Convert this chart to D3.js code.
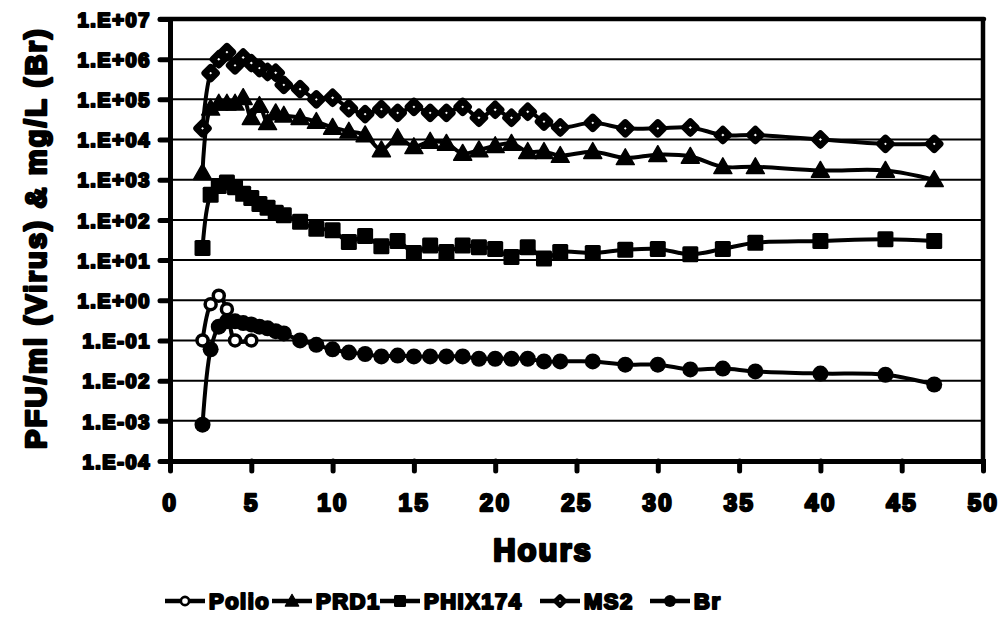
<!DOCTYPE html>
<html><head><meta charset="utf-8">
<script src="https://cdn.jsdelivr.net/npm/d3@7"></script>
<style>
html,body{margin:0;padding:0;background:#fff;}
svg text{font-family:"Liberation Sans",Arial,sans-serif;font-weight:bold;fill:#000;stroke:#000;stroke-linejoin:round;}
</style></head>
<body>
<svg id="c" width="1002" height="628"></svg>
<script>
const hours = [2,2.5,3,3.5,4,4.5,5,5.5,6,6.5,7,8,9,10,11,12,13,14,15,16,17,18,19,20,21,22,23,24,26,28,30,32,34,36,40,44,47];
const polioHours = [2,2.5,3,3.5,4,5];
const polio = [0.1,0.8,1.3,0.6,0.1,0.1];
const prd1 = [1.5e3,6e4,8e4,8e4,8e4,1.1e5,3.5e4,7e4,2.6e4,4.6e4,4e4,3.5e4,2.8e4,2e4,1.6e4,1.3e4,5.5e3,1.1e4,6.6e3,9e3,8e3,4.5e3,5.5e3,7e3,8e3,5e3,5e3,4e3,5e3,3.5e3,4.2e3,3.8e3,2.1e3,2.1e3,1.7e3,1.7e3,1e3];
const phix174 = [20,420,700,850,650,450,350,250,200,150,130,90,60,55,28,40,22,30,15,23,16,23,21,19,12,21,11,16,15,18,19,14,19,27,30,33,30];
const ms2 = [1.9e4,4.5e5,1e6,1.5e6,7e5,1.1e6,8e5,6e5,4.8e5,4.6e5,2.3e5,1.8e5,1e5,1.1e5,6e4,4.3e4,5.7e4,4.6e4,6.5e4,4.6e4,4.6e4,6.5e4,3.5e4,5.5e4,3.5e4,4.9e4,2.8e4,2e4,2.6e4,1.9e4,1.9e4,2e4,1.3e4,1.3e4,1e4,7.8e3,7.8e3];
const br = [8e-4,0.06,0.22,0.3,0.3,0.27,0.25,0.22,0.2,0.17,0.15,0.1,0.078,0.06,0.05,0.046,0.04,0.042,0.04,0.04,0.04,0.04,0.035,0.035,0.035,0.035,0.03,0.03,0.03,0.025,0.025,0.019,0.02,0.017,0.015,0.014,0.008];
const xTicks = [0,5,10,15,20,25,30,35,40,45,50];
const yTickValues = [1e-4,1e-3,1e-2,1e-1,1,10,100,1e3,1e4,1e5,1e6,1e7];
const yTickLabels = ["1.E-04","1.E-03","1.E-02","1.E-01","1.E+00","1.E+01","1.E+02","1.E+03","1.E+04","1.E+05","1.E+06","1.E+07"];
const seriesNames = ["Polio","PRD1","PHIX174","MS2","Br"];

const svg = d3.select("#c");
const L=170, R=983, T=19, B=461;
const x = d3.scaleLinear().domain([0,50]).range([L,R]);
const y = d3.scaleLog().domain([1e-4,1e7]).range([B,T]);

// gridlines
svg.append("g").selectAll("line").data(yTickValues.slice(1,-1)).join("line")
  .attr("x1",L).attr("x2",R).attr("y1",d=>y(d)).attr("y2",d=>y(d))
  .attr("stroke","#000").attr("stroke-width",2);

// frame top/right
svg.append("line").attr("x1",L-10).attr("x2",R+1).attr("y1",T).attr("y2",T).attr("stroke","#000").attr("stroke-width",4.5).attr("stroke-linecap","round");
svg.append("line").attr("x1",R).attr("x2",R).attr("y1",T).attr("y2",B).attr("stroke","#000").attr("stroke-width",4.5);

// y axis
const yAxis = d3.axisLeft(y).tickValues(yTickValues).tickFormat((d,i)=>yTickLabels[i]).tickSize(10).tickPadding(9);
const gy = svg.append("g").attr("transform",`translate(${L},0)`).call(yAxis);
gy.select(".domain").attr("stroke","#000").attr("stroke-width",5);
gy.selectAll(".tick line").attr("stroke","#000").attr("stroke-width",5).attr("stroke-linecap","round");
gy.selectAll(".tick text").attr("font-size",20).attr("stroke-width",2.2).attr("letter-spacing","1.6px")
  .attr("font-family","Liberation Sans, Arial, sans-serif").attr("font-weight","bold").attr("dy","0.36em");

// x axis
const xAxis = d3.axisBottom(x).tickValues(xTicks).tickSize(10).tickPadding(23).tickFormat(d3.format("d"));
const gx = svg.append("g").attr("transform",`translate(0,${B})`).call(xAxis);
gx.select(".domain").attr("stroke","#000").attr("stroke-width",5);
gx.selectAll(".tick line").attr("stroke","#000").attr("stroke-width",5).attr("stroke-linecap","round");
gx.selectAll(".tick text").attr("font-size",24).attr("stroke-width",2.4).attr("letter-spacing","2.5px")
  .attr("font-family","Liberation Sans, Arial, sans-serif").attr("font-weight","bold");

// titles
svg.append("text").attr("x",543).attr("y",561).attr("text-anchor","middle")
  .attr("font-size",31).attr("stroke-width",2.6).attr("letter-spacing","2px").text("Hours");
svg.append("text").attr("transform","translate(46,238) rotate(-90)").attr("text-anchor","middle")
  .attr("font-size",29).attr("stroke-width",2.6).attr("letter-spacing","2.2px").text("PFU/ml (Virus) & mg/L (Br)");

// marker drawing helpers
function marker(g, type, cx, cy, s) {
  if (type==="circleOpen") {
    g.append("circle").attr("cx",cx).attr("cy",cy).attr("r",5.5*s).attr("fill","#fff").attr("stroke","#000").attr("stroke-width",3.5*s);
  } else if (type==="circleFill") {
    g.append("circle").attr("cx",cx).attr("cy",cy).attr("r",8*s).attr("fill","#000");
  } else if (type==="triangle") {
    const h=9*s;
    g.append("path").attr("d",`M${cx},${cy-h}L${cx+h},${cy+h*0.75}L${cx-h},${cy+h*0.75}Z`).attr("fill","#000").attr("stroke","#000").attr("stroke-width",1.5*s).attr("stroke-linejoin","round");
  } else if (type==="square") {
    const h=8*s;
    g.append("rect").attr("x",cx-h).attr("y",cy-h).attr("width",2*h).attr("height",2*h).attr("fill","#000").attr("rx",1.5);
  } else if (type==="diamond") {
    const h=6*s;
    g.append("path").attr("d",`M${cx},${cy-h}L${cx+h},${cy}L${cx},${cy+h}L${cx-h},${cy}Z`).attr("fill","#fff").attr("stroke","#000").attr("stroke-width",6.5*s).attr("stroke-linejoin","round");
  }
}

const series = [
  {name:"Polio", xs:polioHours, ys:polio, type:"circleOpen"},
  {name:"PRD1", xs:hours, ys:prd1, type:"triangle"},
  {name:"PHIX174", xs:hours, ys:phix174, type:"square"},
  {name:"MS2", xs:hours, ys:ms2, type:"diamond"},
  {name:"Br", xs:hours, ys:br, type:"circleFill"}
];
const line = d3.line().x(d=>x(d[0])).y(d=>y(d[1])).curve(d3.curveCatmullRom.alpha(0.5));
series.forEach(s=>{
  const pts = s.xs.map((h,i)=>[h,s.ys[i]]);
  const g = svg.append("g");
  g.append("path").datum(pts).attr("d",line).attr("fill","none").attr("stroke","#000").attr("stroke-width",4).attr("stroke-linejoin","round");
  pts.forEach(p=>marker(g,s.type,x(p[0]),y(p[1]),1));
});

// legend
const legX = [165,272,380,540,650];
series.forEach((s,i)=>{
  const g = svg.append("g");
  const x0 = legX[i], yy = 601;
  g.append("line").attr("x1",x0).attr("x2",x0+40).attr("y1",yy).attr("y2",yy).attr("stroke","#000").attr("stroke-width",4.5);
  marker(g,s.type,x0+20,yy,0.75);
  g.append("text").attr("x",x0+44).attr("y",yy+8).attr("font-size",22).attr("stroke-width",2.2).attr("letter-spacing","1.5px").text(seriesNames[i]);
});
</script>
</body></html>
